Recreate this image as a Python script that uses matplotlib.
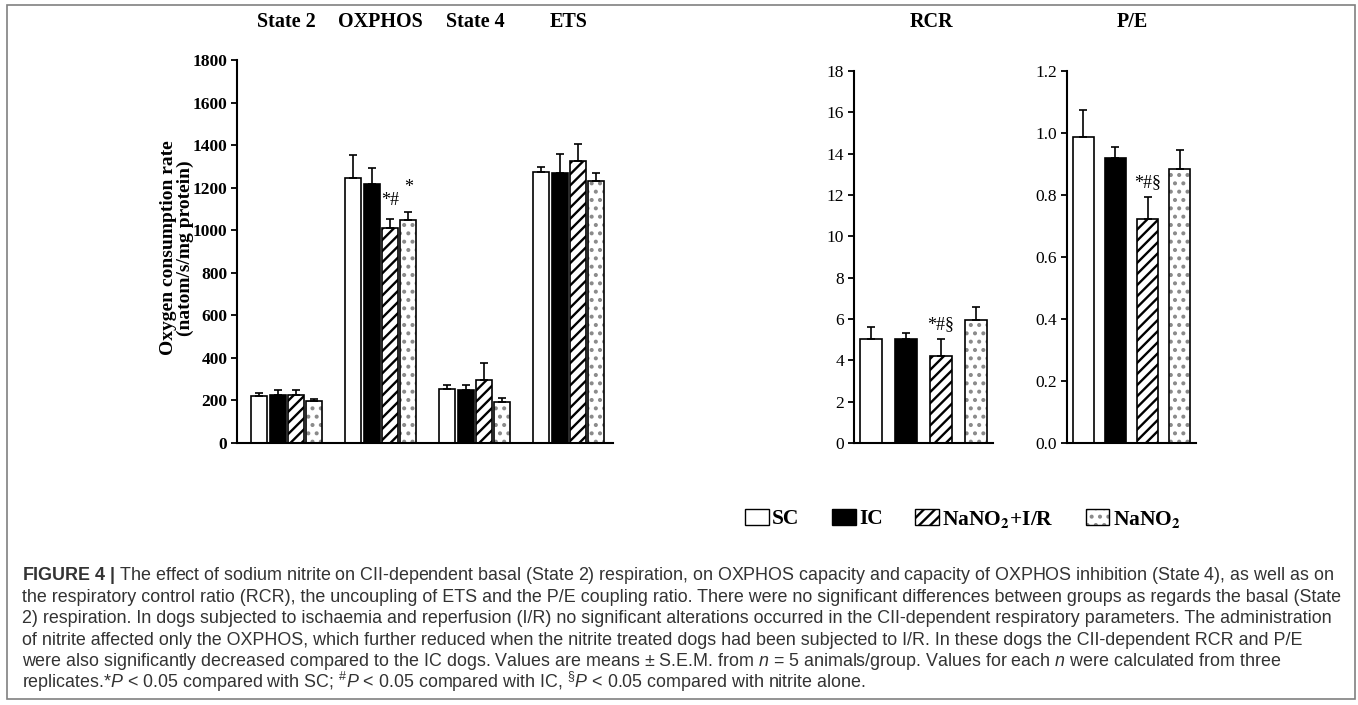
import numpy as np
import matplotlib
matplotlib.use('Agg')
import matplotlib.pyplot as plt
from matplotlib.patches import Patch, Rectangle
from matplotlib.legend_handler import HandlerTuple

plt.rcParams['font.family'] = 'Liberation Serif'
plt.rcParams['hatch.linewidth'] = 1.7
plt.rcParams['mathtext.fontset'] = 'custom'
plt.rcParams['mathtext.rm'] = 'Liberation Sans'
plt.rcParams['mathtext.it'] = 'Liberation Sans:italic'
plt.rcParams['mathtext.bf'] = 'Liberation Sans:bold'

W, H = 1358, 705

# %% DADOS
STATES = ['State 2', 'OXPHOS', 'State 4', 'ETS']
LEGEND_LABELS = ['SC', 'IC', r'NaNO$_\mathbf{2}$+I/R', r'NaNO$_\mathbf{2}$']

sc_ocr = [222, 1244, 253, 1274]
sc_ocr_err = [13, 110, 18, 25]
ic_ocr = [227, 1216, 250, 1268]
ic_ocr_err = [20, 75, 21, 90]
nir_ocr = [227, 1009, 294, 1324]
nir_ocr_err = [23, 44, 80, 81]
nit_ocr = [196, 1047, 191, 1232]
nit_ocr_err = [12, 39, 20, 36]

rcr = [5.04, 5.04, 4.19, 5.96]
rcr_err = [0.58, 0.29, 0.85, 0.61]
pe = [0.988, 0.918, 0.721, 0.885]
pe_err = [0.085, 0.036, 0.071, 0.059]

ocr_marks = {(1, 2): '*#', (1, 3): '*'}   # (estado, grupo)
rcr_marks = {2: '*#§'}
pe_marks = {2: '*#§'}

CAPTION = [
    r"$\mathbf{FIGURE\ 4\ |}$ The effect of sodium nitrite on CII-dependent basal (State 2) respiration, on OXPHOS capacity and capacity of OXPHOS inhibition (State 4), as well as on",
    "the respiratory control ratio (RCR), the uncoupling of ETS and the P/E coupling ratio. There were no significant differences between groups as regards the basal (State",
    "2) respiration. In dogs subjected to ischaemia and reperfusion (I/R) no significant alterations occurred in the CII-dependent respiratory parameters. The administration",
    "of nitrite affected only the OXPHOS, which further reduced when the nitrite treated dogs had been subjected to I/R. In these dogs the CII-dependent RCR and P/E",
    r"were also significantly decreased compared to the IC dogs. Values are means ± S.E.M. from $n$ = 5 animals/group. Values for each $n$ were calculated from three",
    r"replicates.*$P$ < 0.05 compared with SC; ${}^{\#}P$ < 0.05 compared with IC, ${}^{§}P$ < 0.05 compared with nitrite alone.",
]

# estilo de cada grupo: SC, IC, NaNO2+I/R, NaNO2
FACES = ['white', 'black', 'white', 'white']
HATCHES = [None, None, '///', '..']
HATCH_COLORS = ['black', 'black', 'black', '#8a8a8a']

# %% FIGURA
fig = plt.figure(figsize=(W / 100, H / 100), dpi=100)


def px_axes(x0, x1, y_top, y_bot):
    return fig.add_axes([x0 / W, 1 - y_bot / H, (x1 - x0) / W, (y_bot - y_top) / H])


def style_axes(ax, bold):
    for s in ['top', 'right']:
        ax.spines[s].set_visible(False)
    for s in ['left', 'bottom']:
        ax.spines[s].set_linewidth(1.5)
    ax.tick_params(axis='y', direction='out', length=4, width=1.3, labelsize=12.5, pad=3)
    ax.tick_params(axis='x', length=0, labelbottom=False)
    for lbl in ax.get_yticklabels():
        lbl.set_fontweight('bold' if bold else 'normal')


def draw_bars(ax, xs, vals, errs, k, width):
    # preenchimento + hachura (cor da hachura = edgecolor), depois o contorno preto
    ax.bar(xs, vals, width, color=FACES[k], edgecolor=HATCH_COLORS[k], linewidth=0,
           hatch=HATCHES[k], zorder=2)
    ax.bar(xs, vals, width, fill=False, edgecolor='black', linewidth=1.2, zorder=2.5)
    ax.errorbar(xs, vals, yerr=[np.zeros(len(vals)), errs], fmt='none',
                ecolor='black', elinewidth=1.2, capsize=3, capthick=1.2, zorder=3)


# painel da taxa de consumo de O2
ax1 = px_axes(237, 613, 60, 443)
ocr_series = [(sc_ocr, sc_ocr_err), (ic_ocr, ic_ocr_err),
              (nir_ocr, nir_ocr_err), (nit_ocr, nit_ocr_err)]
x = np.arange(len(STATES))
step, bw = 0.195, 0.17
for k, (vals, errs) in enumerate(ocr_series):
    draw_bars(ax1, x + (k - 1.5) * step, vals, errs, k, bw)
mark_gap = {'*#': 45, '*': 75}
for (i, k), txt in ocr_marks.items():
    vals, errs = ocr_series[k]
    ax1.text(i + (k - 1.5) * step, vals[i] + errs[i] + mark_gap[txt], txt, ha='center',
             va='bottom', fontsize=13)
ax1.set_xlim(-0.53, 3.47)
ax1.set_ylim(0, 1800)
ax1.set_yticks(np.arange(0, 1801, 200))
style_axes(ax1, bold=True)
for i, s in enumerate(STATES):
    ax1.text(i, 1.10, s, transform=ax1.get_xaxis_transform(), ha='center',
             va='center', fontsize=14.5, fontweight='bold')
fig.text(177 / W, 1 - 248 / H, 'Oxygen consumption rate\n(natom/s/mg protein)',
         rotation=90, ha='center', va='center', fontsize=14, fontweight='bold',
         linespacing=0.95)

# RCR
ax2 = px_axes(854, 993, 71, 443)
xr = np.arange(4) + 0.5
for k in range(4):
    draw_bars(ax2, xr[k:k + 1], rcr[k:k + 1], rcr_err[k:k + 1], k, 0.63)
for k, txt in rcr_marks.items():
    ax2.text(xr[k], rcr[k] + rcr_err[k] + 0.3, txt, ha='center', va='bottom', fontsize=13)
ax2.set_xlim(0, 4)
ax2.set_ylim(0, 18)
ax2.set_yticks(np.arange(0, 19, 2))
style_axes(ax2, bold=False)
ax2.text(0.56, 1.132, 'RCR', transform=ax2.transAxes, ha='center', va='center',
         fontsize=14.5, fontweight='bold')

# P/E
ax3 = px_axes(1067, 1196, 71, 443)
xp = np.arange(4) + 0.5
for k in range(4):
    draw_bars(ax3, xp[k:k + 1], pe[k:k + 1], pe_err[k:k + 1], k, 0.65)
for k, txt in pe_marks.items():
    ax3.text(xp[k], pe[k] + pe_err[k] + 0.02, txt, ha='center', va='bottom', fontsize=13)
ax3.set_xlim(0, 4)
ax3.set_ylim(0, 1.2)
ax3.set_yticks(np.arange(0, 1.21, 0.2))
ax3.yaxis.set_major_formatter(matplotlib.ticker.FormatStrFormatter('%.1f'))
style_axes(ax3, bold=False)
ax3.text(0.51, 1.132, 'P/E', transform=ax3.transAxes, ha='center', va='center',
         fontsize=14.5, fontweight='bold')

# legenda
handles = [(Patch(facecolor=FACES[k], edgecolor=HATCH_COLORS[k], hatch=HATCHES[k], linewidth=0),
            Patch(fill=False, edgecolor='black', linewidth=1.0)) for k in range(4)]
leg = fig.legend(handles, LEGEND_LABELS, loc='center', bbox_to_anchor=(963 / W, 1 - 519 / H),
                 ncol=4, frameon=False,
                 handler_map={tuple: HandlerTuple(ndivide=1, pad=0)},
                 prop=dict(family='Liberation Serif', weight='bold', size=15.5),
                 handlelength=1.1, handleheight=0.75, handletextpad=0.15,
                 columnspacing=1.5)
for t in leg.get_texts():
    t.set_math_fontfamily('stix')

# legenda da figura (texto)
for i, line in enumerate(CAPTION):
    fig.text(22 / W, 1 - (580 + 21.6 * i) / H, line, ha='left', va='baseline',
             fontsize=12.9, family='Liberation Sans', color='#333333')

fig.patches.append(Rectangle((7 / W, 1 - 699 / H), (1355 - 7) / W, (699 - 5) / H,
                             transform=fig.transFigure, fill=False,
                             edgecolor='#808080', linewidth=1.2))

fig.savefig('out.png', dpi=100)
